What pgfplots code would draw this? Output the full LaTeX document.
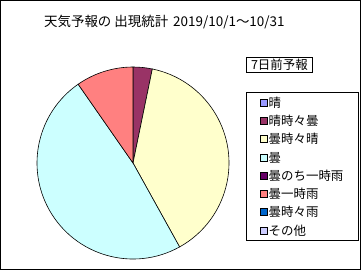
\documentclass[border=0pt]{standalone}
\usepackage{pgfplots}
\usepackage{pgfplotstable}
\pgfplotsset{compat=1.18}
\usepackage{fontspec}
\setmainfont{Noto Sans CJK JP}
\definecolor{slice0}{HTML}{9999FF}
\definecolor{slice1}{HTML}{993366}
\definecolor{slice2}{HTML}{FFFFCC}
\definecolor{slice3}{HTML}{CCFFFF}
\definecolor{slice4}{HTML}{660066}
\definecolor{slice5}{HTML}{FF8080}
\definecolor{slice6}{HTML}{0066CC}
\definecolor{slice7}{HTML}{CCCCFF}
% days in October 2019 for each forecast category (7 days ahead)
\pgfplotstableread{
cat days
0 0
1 1
2 12
3 15
4 0
5 3
6 0
7 0
}\piedata
\begin{document}
\begin{tikzpicture}
\fill[white] (0bp,0bp) rectangle (361bp,-270bp);
\node[font=\fontsize{13.5}{16}\selectfont, inner sep=0pt, anchor=base west] at (44bp,-26bp) {天気予報の\hspace{3bp}出現統計\hspace{5bp}2019/10/1～10/31};
\begin{axis}[
  at={(133bp,-163bp)}, anchor=center,
  scale only axis, width=192bp, height=192bp,
  xmin=-1, xmax=1, ymin=-1, ymax=1,
  hide axis, clip=false,
  legend cell align=left,
  legend image code/.code={\draw[#1, draw=black, line width=0.5bp] (0bp,-3.5bp) rectangle (7bp,3.5bp);},
  legend style={at={(1.0885,0.8698)}, anchor=north west, draw=none, fill=none,
    inner xsep=13.5bp, inner ysep=1bp, row sep=0pt, column sep=1.5bp,
    font=\fontsize{12.5}{14}\selectfont,
    nodes={inner xsep=0pt, inner ysep=0pt, text height=13.9bp, text depth=4.4bp}},
]
\addlegendimage{fill=slice0}\addlegendentry{晴}
\addlegendimage{fill=slice1}\addlegendentry{晴時々曇}
\addlegendimage{fill=slice2}\addlegendentry{曇時々晴}
\addlegendimage{fill=slice3}\addlegendentry{曇}
\addlegendimage{fill=slice4}\addlegendentry{曇のち一時雨}
\addlegendimage{fill=slice5}\addlegendentry{曇一時雨}
\addlegendimage{fill=slice6}\addlegendentry{曇時々雨}
\addlegendimage{fill=slice7}\addlegendentry{その他}
\pgfplotsextra{%
  \gdef\total{0}%
  \pgfplotsforeachungrouped \i in {0,...,7}{%
    \pgfplotstablegetelem{\i}{days}\of{\piedata}%
    \pgfmathsetmacro{\tmp}{\total+\pgfplotsretval}%
    \global\let\total=\tmp
  }%
  \gdef\cum{0}%
  \pgfplotsforeachungrouped \i in {0,...,7}{%
    \pgfplotstablegetelem{\i}{days}\of{\piedata}%
    \let\d=\pgfplotsretval
    \pgfmathsetmacro{\a}{90-\cum*360/\total}%
    \pgfmathsetmacro{\cumnew}{\cum+\d}%
    \pgfmathsetmacro{\b}{90-\cumnew*360/\total}%
    \pgfmathsetmacro{\ax}{cos(\a)}%
    \pgfmathsetmacro{\ay}{sin(\a)}%
    \ifdim\d pt>0pt
      \filldraw[fill=slice\i, draw=black, line width=0.6bp] (axis cs:0,0) -- (axis cs:\ax,\ay) arc[start angle=\a, end angle=\b, radius=96bp] -- cycle;
    \fi
    \global\let\cum=\cumnew
  }%
}
\end{axis}
\node[draw=black, line width=0.8bp, font=\fontsize{12.5}{14}\selectfont, inner sep=0pt, minimum width=66bp, minimum height=15bp, anchor=north west] at (246bp,-56.5bp) {7日前予報};
\draw[black, line width=0.8bp] (246bp,-92bp) rectangle (358bp,-240bp);
\draw[black, line width=1bp] (0.5bp,-0.5bp) rectangle (360bp,-269.5bp);
\pgfresetboundingbox
\useasboundingbox (0bp,0bp) rectangle (361bp,-270bp);
\end{tikzpicture}
\end{document}
